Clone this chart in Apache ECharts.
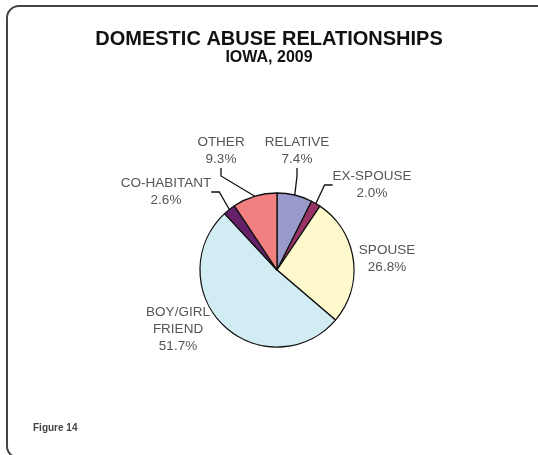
<!DOCTYPE html>
<html>
<head>
<meta charset="utf-8">
<script src="https://cdn.jsdelivr.net/npm/echarts@6/dist/echarts.min.js"></script>
<style>
  html, body { margin: 0; padding: 0; background: #fff; }
  #chart { width: 538px; height: 455px; }
</style>
</head>
<body>
<div id="chart"></div>
<script>
// Relationship of victim to offender, share of reported cases (%)
const categories = ['RELATIVE', 'EX-SPOUSE', 'SPOUSE', 'BOY/GIRL\nFRIEND', 'CO-HABITANT', 'OTHER'];
const shares = [7.4, 2.0, 26.8, 51.7, 2.6, 9.3];
const sliceColors = ['#9999cc', '#993366', '#fdf9cc', '#d2ecf4', '#66206a', '#f28080'];

// Label anchor (centre of the text block) and whether a leader line is drawn
const labelPlacement = {
  'RELATIVE': { x: 297, y: 151, line: true },
  'EX-SPOUSE': { x: 372, y: 185, line: true },
  'SPOUSE': { x: 387, y: 259, line: false },
  'BOY/GIRL\nFRIEND': { x: 178, y: 329, line: false },
  'CO-HABITANT': { x: 166, y: 192, line: true },
  'OTHER': { x: 221, y: 151, line: true }
};

const chart = echarts.init(document.getElementById('chart'), null, { renderer: 'canvas' });

const pieData = categories.map((name, i) => ({
  name: name,
  value: shares[i],
  itemStyle: { color: sliceColors[i] },
  labelLine: { show: labelPlacement[name].line }
}));

const labelFont = { fontFamily: 'Liberation Sans', fontSize: 13.5, lineHeight: 17, color: '#555' };

chart.setOption({
  animation: false,
  backgroundColor: '#ffffff',
  title: [
    {
      text: 'DOMESTIC ABUSE RELATIONSHIPS',
      left: 'center',
      top: 24,
      textStyle: { fontFamily: 'Liberation Sans', fontWeight: 'bold', fontSize: 20, color: '#111' }
    },
    {
      text: 'IOWA, 2009',
      left: 'center',
      top: 45,
      textStyle: { fontFamily: 'Liberation Sans', fontWeight: 'bold', fontSize: 16, color: '#111' }
    },
    {
      text: 'Figure 14',
      left: 28,
      top: 418,
      textStyle: { fontFamily: 'Liberation Sans', fontWeight: 'bold', fontSize: 10, color: '#444' }
    }
  ],
  graphic: [
    {
      type: 'rect',
      shape: { x: 7, y: 6, width: 542, height: 452, r: 12 },
      style: { fill: 'none', stroke: '#444', lineWidth: 2 },
      silent: true
    }
  ],
  series: [
    {
      type: 'pie',
      center: [277, 270],
      radius: 77,
      startAngle: 90,
      clockwise: true,
      data: pieData,
      itemStyle: { borderColor: '#111', borderWidth: 1.3 },
      label: Object.assign({
        show: true,
        position: 'outside',
        formatter: p => p.name.split('\n').map(s => '{c|' + s + '}').join('\n') + '\n{c|' + p.value.toFixed(1) + '%}',
        rich: { c: Object.assign({ align: 'center' }, labelFont) }
      }, labelFont),
      labelLine: { lineStyle: { color: '#111', width: 1.3 }, length: 12, length2: 8 },
      labelLayout: function (params) {
        const p = labelPlacement[categories[params.dataIndex]];
        return { x: p.x, y: p.y, align: 'center', verticalAlign: 'middle' };
      }
    }
  ]
});
</script>
</body>
</html>
